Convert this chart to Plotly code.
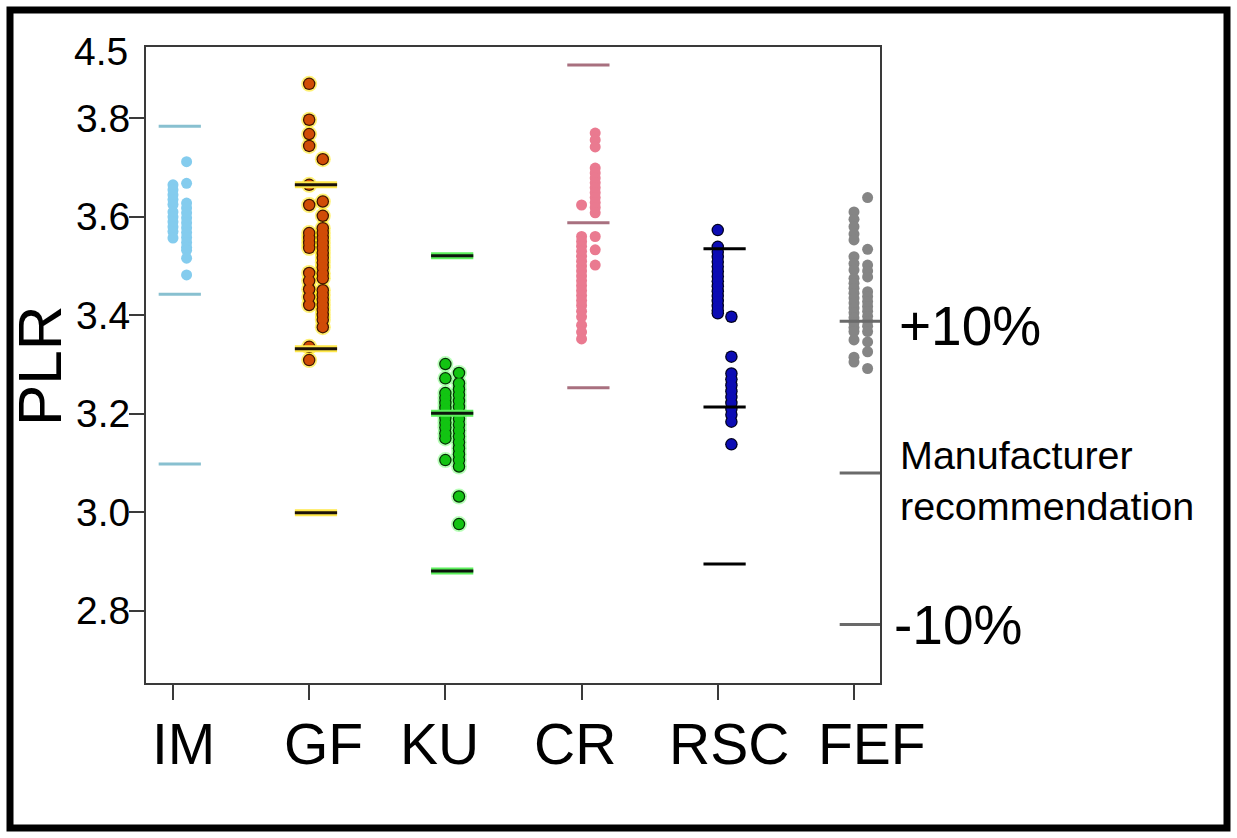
import plotly.graph_objects as go

# ---------------- data ----------------
categories = ["IM", "GF", "KU", "CR", "RSC", "FEF"]

# PLR values, two dot columns per device (left column / right column)
im_left = [3.665, 3.655, 3.645, 3.635, 3.625, 3.610, 3.600, 3.590, 3.580, 3.570, 3.557]
im_right = [3.712, 3.668, 3.628, 3.618, 3.608, 3.598, 3.588, 3.578, 3.568, 3.558,
            3.548, 3.538, 3.532, 3.516, 3.482]

gf_left = [3.870, 3.797, 3.768, 3.744, 3.665, 3.624, 3.567, 3.557, 3.547, 3.537,
           3.486, 3.470, 3.453, 3.437, 3.421, 3.336, 3.309]
gf_right = [3.717, 3.631, 3.602, 3.577, 3.567, 3.557, 3.547, 3.537, 3.527, 3.517,
            3.507, 3.497, 3.485, 3.475, 3.451, 3.441, 3.431, 3.421, 3.411, 3.401,
            3.391, 3.376]

ku_left = [3.301, 3.272, 3.242, 3.232, 3.222, 3.212, 3.202, 3.192, 3.182, 3.172,
           3.160, 3.150, 3.106]
ku_right = [3.283, 3.262, 3.250, 3.238, 3.226, 3.214, 3.202, 3.190, 3.178, 3.166,
            3.154, 3.142, 3.130, 3.118, 3.106, 3.093, 3.032, 2.976]

cr_left = [3.624, 3.560, 3.550, 3.540, 3.530, 3.520, 3.510, 3.500, 3.490, 3.480,
           3.470, 3.460, 3.450, 3.440, 3.430, 3.420, 3.408, 3.397, 3.380, 3.366, 3.352]
cr_right = [3.770, 3.756, 3.742, 3.699, 3.689, 3.679, 3.669, 3.659, 3.649, 3.639,
            3.629, 3.619, 3.608, 3.560, 3.533, 3.502]

rsc_left = [3.573, 3.539, 3.529, 3.519, 3.509, 3.499, 3.489, 3.479, 3.469, 3.459,
            3.449, 3.439, 3.429, 3.419, 3.410, 3.404]
rsc_right = [3.397, 3.316, 3.282, 3.270, 3.258, 3.246, 3.234, 3.222, 3.210, 3.198,
             3.184, 3.138]

fef_left = [3.610, 3.595, 3.580, 3.565, 3.553, 3.519, 3.505, 3.492, 3.475, 3.465,
            3.455, 3.445, 3.435, 3.425, 3.415, 3.405, 3.395, 3.385, 3.375, 3.367,
            3.350, 3.315, 3.305]
fef_right = [3.639, 3.534, 3.502, 3.490, 3.478, 3.448, 3.438, 3.428, 3.418, 3.408,
             3.398, 3.388, 3.378, 3.367, 3.346, 3.326, 3.292]

# manufacturer recommendation and +/-10 % limits per device
ref_center = [3.443, 3.332, 3.201, 3.588, 3.214, 3.080]
ref_upper = [3.784, 3.665, 3.521, 3.908, 3.535, 3.388]
ref_lower = [3.098, 2.999, 2.881, 3.253, 2.895, 2.772]

y_tickvals = [2.8, 3.0, 3.2, 3.4, 3.6, 3.8]
y_ticktext = ["2.8", "3.0", "3.2", "3.4", "3.6", "3.8"]
top_label_text = "4.5"
top_label_value = 3.935

left_cols = [im_left, gf_left, ku_left, cr_left, rsc_left, fef_left]
right_cols = [im_right, gf_right, ku_right, cr_right, rsc_right, fef_right]

# ---------------- styling ----------------
FONT = "Liberation Sans, Arial, Helvetica, sans-serif"
W, H = 1237, 838
ML, MR, MT, MB = 146, 357, 47, 155
PW, PH = W - ML - MR, H - MT - MB
X_RANGE = [-0.198, 5.191]
Y_RANGE = [2.6534, 3.9448]
COL_OFF = 0.10
LINE_C = 0.05
LINE_HW = 0.155

styles = [
    dict(fill="#84ccee", outline=None, glow=None, line="#88c0d0", lglow=None),
    dict(fill="#d04c06", outline="#3f1500", glow="#ffe600", line="#1c1208", lglow="#ffe84a"),
    dict(fill="#12c412", outline="#053005", glow="#7dff7d", line="#0c160c", lglow="#5cf05c"),
    dict(fill="#ea7a90", outline=None, glow=None, line="#a8707f", lglow=None),
    dict(fill="#0c0cb4", outline="#00001e", glow=None, line="#000000", lglow=None),
    dict(fill="#858585", outline=None, glow=None, line="#6a6a6a", lglow=None),
]

fig = go.Figure()

# dots (glow -> outline -> fill, so stacked dots merge into bars)
for i, cat in enumerate(categories):
    st = styles[i]
    xs = [i] * len(left_cols[i]) + [i + COL_OFF] * len(right_cols[i])
    ys = left_cols[i] + right_cols[i]
    if st["glow"]:
        fig.add_trace(go.Scatter(x=xs, y=ys, mode="markers", showlegend=False,
                                 hoverinfo="skip",
                                 marker=dict(size=16, color=st["glow"], opacity=0.55,
                                             line=dict(width=0))))
    if st["outline"]:
        fig.add_trace(go.Scatter(x=xs, y=ys, mode="markers", showlegend=False,
                                 hoverinfo="skip",
                                 marker=dict(size=12.5, color=st["outline"],
                                             line=dict(width=0))))
        fsize = 10
    else:
        fsize = 11
    fig.add_trace(go.Scatter(
        x=xs, y=ys, mode="markers", name=cat, showlegend=False,
        marker=dict(size=fsize, color=st["fill"], line=dict(width=0))))

# reference lines
for i, cat in enumerate(categories):
    st = styles[i]
    lx, ly = [], []
    for v in (ref_upper[i], ref_center[i], ref_lower[i]):
        lx += [i + LINE_C - LINE_HW, i + LINE_C + LINE_HW, None]
        ly += [v, v, None]
    if st["lglow"]:
        fig.add_trace(go.Scatter(x=lx, y=ly, mode="lines", showlegend=False,
                                 hoverinfo="skip",
                                 line=dict(color=st["lglow"], width=7)))
    fig.add_trace(go.Scatter(x=lx, y=ly, mode="lines", showlegend=False,
                             line=dict(color=st["line"], width=3)))

fig.update_layout(
    width=W, height=H,
    margin=dict(l=ML, r=MR, t=MT, b=MB),
    paper_bgcolor="white", plot_bgcolor="white",
    font=dict(family=FONT, color="black"),
    xaxis=dict(range=X_RANGE, tickvals=list(range(len(categories))),
               ticktext=[""] * len(categories),
               showgrid=False, zeroline=False, showline=True, mirror=True,
               linecolor="#3a3a3a", linewidth=2, ticks="outside", ticklen=15,
               tickwidth=1.5, tickcolor="#3a3a3a"),
    yaxis=dict(range=Y_RANGE, tickvals=y_tickvals, ticktext=y_ticktext,
               showgrid=False, zeroline=False, showline=True, mirror=True,
               linecolor="#3a3a3a", linewidth=2, ticks="outside", ticklen=15,
               tickwidth=1.5, tickcolor="#3a3a3a", ticklabelstandoff=-9,
               tickfont=dict(size=39, family=FONT, color="black")),
)

def px_to_paper_x(px):
    return (px - ML) / PW

def px_to_paper_y(py):
    return (H - MB - py) / PH

# x category labels
label_shift_px = [11, 14.5, -5.5, -6.5, 11.5, 18]
for i, cat in enumerate(categories):
    fig.add_annotation(x=i + label_shift_px[i] / (PW / (X_RANGE[1] - X_RANGE[0])),
                       y=px_to_paper_y(744), xref="x", yref="paper",
                       text=cat, showarrow=False, xanchor="center", yanchor="middle",
                       font=dict(size=57, family=FONT, color="black"))

# y axis title
fig.add_annotation(x=px_to_paper_x(40), y=px_to_paper_y(366), xref="paper", yref="paper",
                   text="PLR", textangle=-90, showarrow=False,
                   xanchor="center", yanchor="middle",
                   font=dict(size=62, family=FONT, color="black"))

# odd top label
fig.add_annotation(x=px_to_paper_x(130), y=top_label_value, xref="paper", yref="y",
                   text=top_label_text, showarrow=False, xanchor="right", yanchor="middle",
                   font=dict(size=39, family=FONT, color="black"))

# right side labels
fig.add_annotation(x=px_to_paper_x(897), y=ref_upper[5], xref="paper", yref="y",
                   yshift=-5, text="+10%", showarrow=False, xanchor="left",
                   yanchor="middle", font=dict(size=55, family=FONT, color="black"))
fig.add_annotation(x=px_to_paper_x(892), y=ref_lower[5], xref="paper", yref="y",
                   text="-10%", showarrow=False, xanchor="left",
                   yanchor="middle", font=dict(size=55, family=FONT, color="black"))
fig.add_annotation(x=px_to_paper_x(898), y=ref_center[5], xref="paper", yref="y",
                   yshift=-8, text="Manufacturer<br>recommendation", showarrow=False,
                   xanchor="left", yanchor="middle", align="left",
                   font=dict(size=39.5, family=FONT, color="black"))

# outer black frame
fig.add_shape(type="rect", xref="paper", yref="paper",
              x0=px_to_paper_x(10), x1=px_to_paper_x(W - 10),
              y0=px_to_paper_y(H - 10), y1=px_to_paper_y(10),
              line=dict(color="black", width=7), fillcolor="rgba(0,0,0,0)")

fig.write_html("out.html")
